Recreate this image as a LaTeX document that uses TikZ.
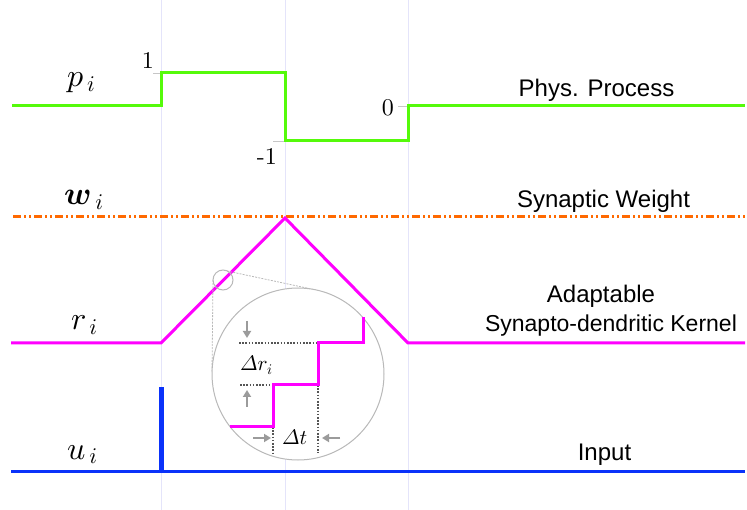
\documentclass[tikz,border=0pt]{standalone}
\usepackage{amsmath}
\usepackage{fontspec}
\newfontfamily\lsans{Liberation Sans}
\DeclareFontShape{OML}{cmm}{m}{it}{<->cmmi10}{}
\DeclareFontShape{OML}{cmm}{b}{it}{<->cmmib10}{}
\DeclareFontShape{OMS}{cmsy}{m}{n}{<->cmsy10}{}
\DeclareFontShape{OT1}{cmr}{m}{n}{<->cmr10}{}
\DeclareFontShape{OMX}{cmex}{m}{n}{<->cmex10}{}
\usetikzlibrary{arrows.meta}
\definecolor{pgreen}{RGB}{85,250,10}
\definecolor{wor}{RGB}{255,105,0}
\definecolor{rmag}{RGB}{255,0,255}
\definecolor{ublue}{RGB}{10,50,250}
\definecolor{guidec}{RGB}{228,228,250}
\definecolor{dotc}{RGB}{85,85,85}
\definecolor{arrc}{RGB}{155,155,155}
\begin{document}
\begin{tikzpicture}[x=1pt,y=-1pt,
  guide/.style={guidec,line width=1pt},
  sig/.style={line width=3pt,line join=miter},
  tick/.style={gray!45,line width=0.8pt},
  lens/.style={gray!55,line width=1pt},
  tang/.style={gray!55,line width=0.8pt,dash pattern=on 2pt off 1.2pt},
  dotl/.style={dotc,line width=1.6pt,dash pattern=on 1.6pt off 1.6pt},
  marr/.style={arrc,line width=2pt,-{Triangle[length=7pt,width=8pt]}},
  mlab/.style={inner sep=0pt,anchor=base west,font=\fontsize{32}{32}\selectfont},
  num/.style={inner sep=0pt,anchor=base east,font=\fontencoding{OT1}\fontfamily{cmr}\fontsize{24}{24}\selectfont},
  txt/.style={inner sep=0pt,anchor=base,font=\lsans\fontsize{24}{24}\selectfont},
  dlab/.style={inner sep=0pt,anchor=base west,font=\fontsize{21}{21}\selectfont}]
\useasboundingbox (0,0) rectangle (747,510);
% guides
\foreach \x in {161,285,408} \draw[guide] (\x,0) -- (\x,510);
% ticks
\draw[tick] (153,73) -- (161,73);
\draw[tick] (398,106) -- (408,106);
\draw[tick] (273,141) -- (285,141);
% signals
\draw[sig,pgreen] (12,106) -- (161,106) -- (161,73) -- (285,73) -- (285,141) -- (408,141) -- (408,106) -- (745,106);
\draw[wor,line width=3pt,dash pattern=on 8pt off 3pt on 2pt off 3pt on 2pt off 3pt] (13,217) -- (745,217);
\draw[sig,rmag] (11,343) -- (161,343) -- (285,218) -- (408,343) -- (745,343);
\draw[ublue,line width=3pt] (11,471) -- (745,471);
\draw[ublue,line width=5pt] (161,471) -- (161,387);
% magnifier
\coordinate (sc) at (223,280);
\coordinate (bc) at (298,374);
\draw[tang] (213,280) -- (212,373);
\draw[tang] (227,271) -- (316,290);
\draw[lens,fill=white] (bc) circle (86);
\draw[lens] (sc) circle (10);
\draw[dotl] (239,343) -- (318,343);
\draw[dotl] (240,385) -- (273,385);
\draw[dotl] (273,427) -- (273,453);
\draw[dotl] (318,385) -- (318,453);
\draw[sig,rmag] (230,426) -- (273,426) -- (273,385) -- (318,385) -- (318,343) -- (363,343) -- (363,317);
\draw[marr] (247,321) -- (247,338);
\draw[marr] (247,407) -- (247,390);
\draw[marr] (253,438) -- (271,438);
\draw[marr] (340,438) -- (322,438);
\node[dlab] (dr) at (240,371) {$\varDelta r_i$};
\node[dlab] (dt) at (282,444) {$\varDelta t$};
% labels
\node[mlab] (pl) at (67,87) {$p_{\,i}$};
\node[mlab] (wl) at (64,205) {$\boldsymbol{w}_{\,i}$};
\node[mlab] (rl) at (71,330) {$r_{\,i}$};
\node[mlab] (ul) at (67,459) {$u_{\,i}$};
\node[num] (n1) at (154,69) {1};
\node[num] (n0) at (394,116) {0};
\node[num] (nm) at (277,165) {-1};
\node[txt] (t1) at (596.5,97) {Phys. Process};
\node[txt] (t2) at (603.5,208) {Synaptic Weight};
\node[txt] (t3) at (601,303) {Adaptable};
\node[txt,font=\lsans\fontsize{23}{23}\selectfont] (t4) at (611,332) {Synapto-dendritic Kernel};
\node[txt] (t5) at (604.5,460) {Input};
\end{tikzpicture}
\end{document}
